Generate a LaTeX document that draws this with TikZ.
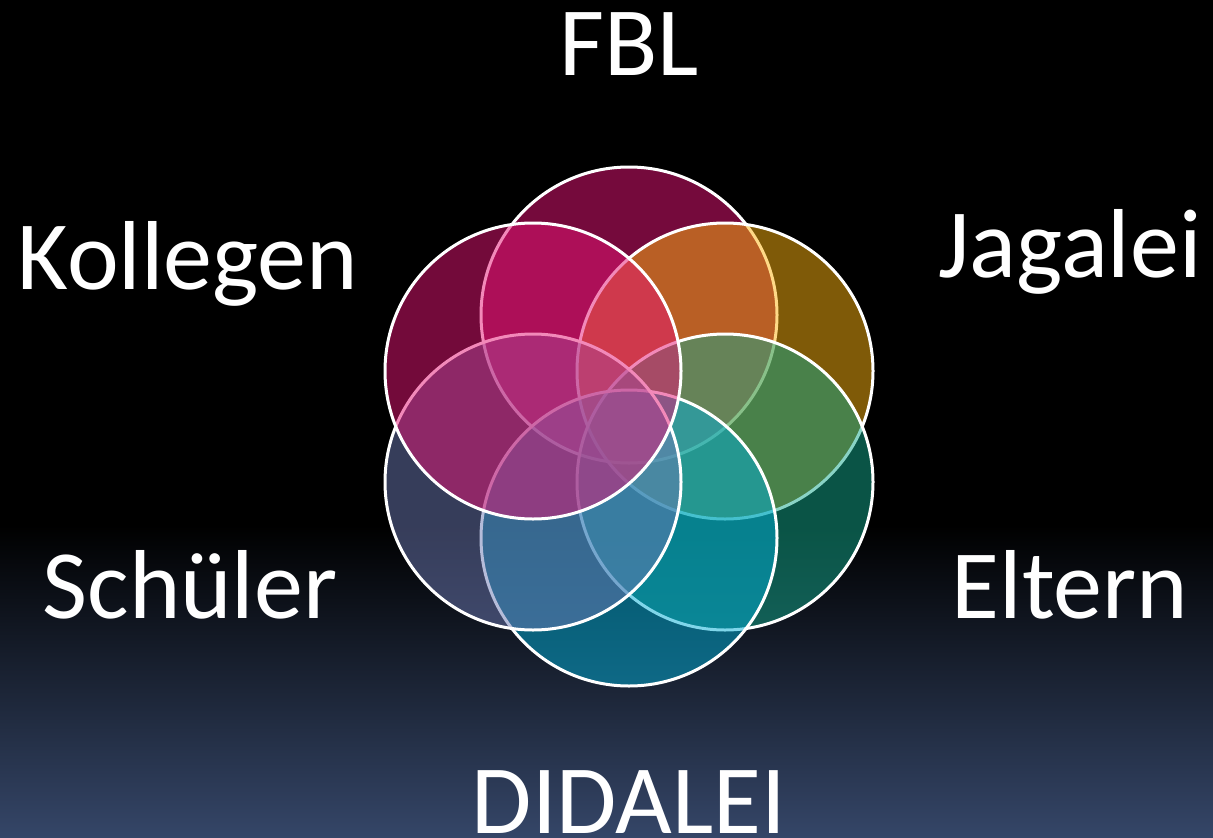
\documentclass[tikz,border=0pt]{standalone}
\usepackage{fontspec}
\setmainfont{Carlito}
\definecolor{bgbot}{RGB}{53,70,104}
\definecolor{cFBL}{RGB}{234,20,120}
\definecolor{cJag}{RGB}{254,180,16}
\definecolor{cElt}{RGB}{20,168,140}
\definecolor{cDid}{RGB}{3,174,215}
\definecolor{cSch}{RGB}{109,122,180}
\definecolor{cKol}{RGB}{230,20,116}
\tikzset{
  ring/.style={circle, minimum size=296pt, inner sep=0pt, draw=white, line width=3pt, fill opacity=0.5, draw opacity=1},
  label/.style={anchor=base, inner sep=0pt, text=white, font=\fontsize{98}{98}\selectfont}
}
\begin{document}
\begin{tikzpicture}[x=1pt,y=-1pt]
\useasboundingbox (0,0) rectangle (1213,838);
\fill[black] (0,0) rectangle (1213,526);
\shade[top color=black, bottom color=bgbot] (0,525) rectangle (1213,838);
\node[ring, fill=cFBL] (fbl) at (629,315) {};
\node[ring, fill=cJag] (jag) at (725,371) {};
\node[ring, fill=cElt] (elt) at (725,482) {};
\node[ring, fill=cDid] (did) at (629,538) {};
\node[ring, fill=cSch] (sch) at (533,482) {};
\node[ring, fill=cKol] (kol) at (533,371) {};
\node[label] (tfbl) at (629,75) {FBL};
\node[label] (tkol) at (188,289) {Kollegen};
\node[label] (tjag) at (1070,277) {Jagalei};
\node[label] (tsch) at (190,618) {Schüler};
\node[label] (telt) at (1070,618) {Eltern};
\node[label] (tdid) at (629,833) {DIDALEI};
\end{tikzpicture}
\end{document}
